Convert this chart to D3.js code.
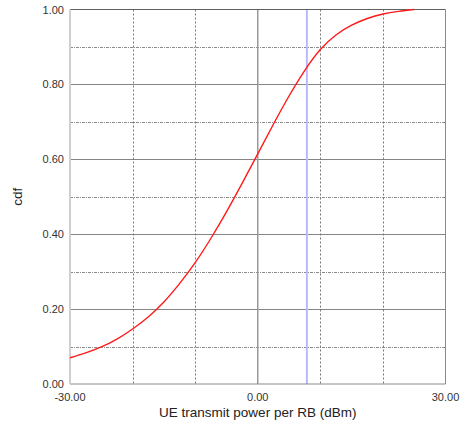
<!DOCTYPE html>
<html>
<head>
<meta charset="utf-8">
<script src="https://cdn.jsdelivr.net/npm/d3@7"></script>
<style>
  html, body { margin: 0; padding: 0; background: #fff; }
  svg { display: block; font-family: "Liberation Sans", Arial, sans-serif; }
</style>
</head>
<body>
<svg id="chart" width="465" height="423"></svg>
<script>
// CDF of UE transmit power per RB
const powerDbm = [-30, -27.5, -25, -22.5, -20, -17.5, -15, -12.5, -10, -7.5, -5, -2.5, 0, 2.5, 5, 7.5, 10, 12.5, 15, 17.5, 20, 22.5, 25];
const cdfValues = [0.070, 0.083, 0.099, 0.120, 0.147, 0.179, 0.219, 0.268, 0.324, 0.3885, 0.4595, 0.5355, 0.6145, 0.6935, 0.769, 0.837, 0.893, 0.932, 0.958, 0.976, 0.988, 0.995, 1.000];
const markerDbm = [7.85];
const xTickLabels = [-30, 0, 30];
const yTickLabels = [0, 0.2, 0.4, 0.6, 0.8, 1.0];
const xGridMinor = [-20, -10, 10, 20];
const yGridMinor = [0.1, 0.3, 0.5, 0.7, 0.9];
const yGridMajor = [0.2, 0.4, 0.6, 0.8];

const svg = d3.select("#chart");
const L = 70, R = 445.5, T = 9.5, B = 384;

const x = d3.scaleLinear().domain([-30, 30]).range([L, R]);
const y = d3.scaleLinear().domain([0, 1]).range([B, T]);

const g = svg.append("g");

// minor horizontal grid
g.selectAll(".ymin").data(yGridMinor).enter().append("line")
  .attr("x1", L).attr("x2", R)
  .attr("y1", d => Math.round(y(d)) + 0.5).attr("y2", d => Math.round(y(d)) + 0.5)
  .attr("stroke", "#8a8a8a").attr("stroke-width", 1).attr("stroke-dasharray", "3,1,1,1");

// major horizontal grid
g.selectAll(".ymaj").data(yGridMajor).enter().append("line")
  .attr("x1", L).attr("x2", R)
  .attr("y1", d => Math.round(y(d)) + 0.5).attr("y2", d => Math.round(y(d)) + 0.5)
  .attr("stroke", "#858585").attr("stroke-width", 1);

// vertical dotted grid
g.selectAll(".xmin").data(xGridMinor).enter().append("line")
  .attr("y1", T).attr("y2", B)
  .attr("x1", d => Math.round(x(d)) + 0.5).attr("x2", d => Math.round(x(d)) + 0.5)
  .attr("stroke", "#777").attr("stroke-width", 1).attr("stroke-dasharray", "2,2");

// zero line
g.append("line")
  .attr("y1", T).attr("y2", B)
  .attr("x1", x(0)).attr("x2", x(0))
  .attr("stroke", "#9a9a9a").attr("stroke-width", 1.5);

// marker line
g.selectAll(".marker").data(markerDbm).enter().append("line")
  .attr("y1", T).attr("y2", B)
  .attr("x1", d => x(d)).attr("x2", d => x(d))
  .attr("stroke", "#c6c6ff").attr("stroke-width", 2);
g.selectAll(".marker2").data(markerDbm).enter().append("line")
  .attr("y1", T).attr("y2", B)
  .attr("x1", d => x(d)).attr("x2", d => x(d))
  .attr("stroke", "#a0a0f4").attr("stroke-width", 0.6);

// frame
g.append("line").attr("x1", L).attr("x2", R).attr("y1", T).attr("y2", T)
  .attr("stroke", "#606060").attr("stroke-width", 1);
g.append("line").attr("x1", R).attr("x2", R).attr("y1", T).attr("y2", B)
  .attr("stroke", "#8a8a8a").attr("stroke-width", 1);
g.append("line").attr("x1", L).attr("x2", R).attr("y1", B).attr("y2", B)
  .attr("stroke", "#8a8a8a").attr("stroke-width", 1);
g.append("line").attr("x1", L).attr("x2", L).attr("y1", T).attr("y2", B)
  .attr("stroke", "#cfcfcf").attr("stroke-width", 2);

// curve
const pts = powerDbm.map((p, i) => [p, cdfValues[i]]);
g.append("path").datum(pts)
  .attr("fill", "none").attr("stroke", "#ff1a1a").attr("stroke-width", 1.4)
  .attr("d", d3.line().x(d => x(d[0])).y(d => y(d[1])).curve(d3.curveNatural));

// tick labels
svg.selectAll(".yl").data(yTickLabels).enter().append("text")
  .attr("x", 64).attr("y", d => y(d) + 4)
  .attr("text-anchor", "end").attr("font-size", 11).attr("fill", "#333")
  .text(d => d.toFixed(2));
svg.selectAll(".xl").data(xTickLabels).enter().append("text")
  .attr("x", d => x(d)).attr("y", 401)
  .attr("text-anchor", "middle").attr("font-size", 11).attr("fill", "#333")
  .text(d => d.toFixed(2));

// axis titles
svg.append("text")
  .attr("x", x(0)).attr("y", 417)
  .attr("text-anchor", "middle").attr("font-size", 13.5).attr("fill", "#222")
  .text("UE transmit power per RB (dBm)");
svg.append("text")
  .attr("transform", "translate(22," + y(0.5) + ") rotate(-90)")
  .attr("text-anchor", "middle").attr("font-size", 13.5).attr("fill", "#222")
  .text("cdf");
</script>
</body>
</html>
